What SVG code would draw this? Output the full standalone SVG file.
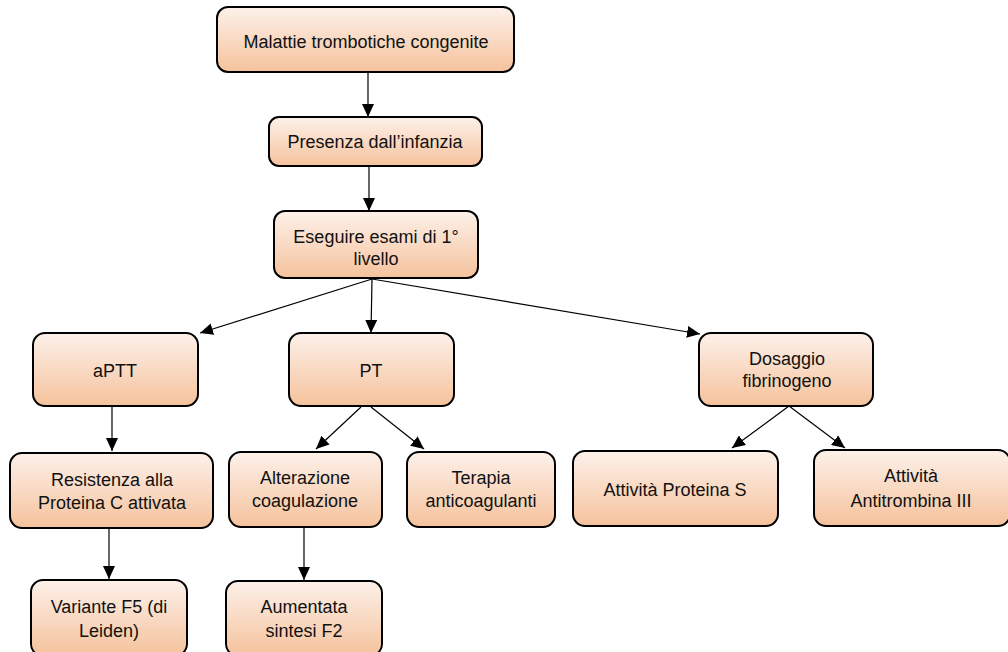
<svg xmlns="http://www.w3.org/2000/svg" width="1008" height="652" viewBox="0 0 1008 652">
<defs>
<linearGradient id="g" x1="0" y1="0" x2="0" y2="1">
<stop offset="0" stop-color="#fdf1ea"/>
<stop offset="1" stop-color="#f5c29c"/>
</linearGradient>
<marker id="ah" markerUnits="userSpaceOnUse" markerWidth="13" markerHeight="12" refX="13" refY="6" orient="auto">
<path d="M0,0 L13,6 L0,12 z" fill="#000"/>
</marker>
</defs>
<style>
.box{fill:url(#g);stroke:#000;stroke-width:2}
text{font-family:"Liberation Sans",Arial,sans-serif;font-size:18px;fill:#111;text-anchor:middle}
.c line{stroke:#000;stroke-width:1.2;marker-end:url(#ah)}
</style>
<rect width="1008" height="652" fill="#fff"/>
<g class="c" id="connectors">
<line x1="368" y1="72" x2="368" y2="117"/>
<line x1="369" y1="166" x2="369" y2="211"/>
<line x1="372" y1="279" x2="200" y2="333"/>
<line x1="372" y1="279" x2="371" y2="333"/>
<line x1="372" y1="279" x2="700" y2="334"/>
<line x1="112" y1="406" x2="112" y2="451"/>
<line x1="361" y1="407" x2="316" y2="449"/>
<line x1="371" y1="407" x2="424" y2="449"/>
<line x1="109" y1="528" x2="109" y2="579"/>
<line x1="304" y1="527" x2="304" y2="580"/>
<line x1="789" y1="406" x2="732" y2="448"/>
<line x1="789" y1="406" x2="845" y2="448"/>
</g>
<g id="n1"><rect class="box" x="217" y="7" width="297" height="65" rx="11"/><text x="366" y="48">Malattie trombotiche congenite</text></g>
<g id="n2"><rect class="box" x="269" y="117" width="213" height="49" rx="10"/><text x="375" y="148">Presenza dall’infanzia</text></g>
<g id="n3"><rect class="box" x="274" y="211" width="204" height="67" rx="11"/><text x="376" y="243">Eseguire esami di 1°</text><text x="376" y="265">livello</text></g>
<g id="n4"><rect class="box" x="33" y="333" width="165" height="73" rx="12"/><text x="115" y="377">aPTT</text></g>
<g id="n5"><rect class="box" x="289" y="333" width="165" height="73" rx="12"/><text x="371" y="377">PT</text></g>
<g id="n6"><rect class="box" x="699" y="333" width="174" height="73" rx="12"/><text x="787" y="365">Dosaggio</text><text x="787" y="387">fibrinogeno</text></g>
<g id="n7"><rect class="box" x="10" y="453" width="203" height="75" rx="12"/><text x="112" y="486">Resistenza alla</text><text x="112" y="509">Proteina C attivata</text></g>
<g id="n8"><rect class="box" x="229" y="452" width="153" height="75" rx="12"/><text x="305" y="484">Alterazione</text><text x="305" y="507">coagulazione</text></g>
<g id="n9"><rect class="box" x="407" y="452" width="148" height="75" rx="12"/><text x="481" y="484">Terapia</text><text x="481" y="507">anticoagulanti</text></g>
<g id="n10"><rect class="box" x="573" y="451" width="205" height="75" rx="12"/><text x="675" y="496">Attività Proteina S</text></g>
<g id="n11"><rect class="box" x="814" y="450" width="196" height="76" rx="12"/><text x="911" y="482">Attività</text><text x="911" y="507">Antitrombina III</text></g>
<g id="n12"><rect class="box" x="31" y="580" width="156" height="76" rx="12"/><text x="109" y="613">Variante F5 (di</text><text x="109" y="637">Leiden)</text></g>
<g id="n13"><rect class="box" x="226" y="581" width="156" height="75" rx="12"/><text x="304" y="613">Aumentata</text><text x="304" y="637">sintesi F2</text></g>
</svg>
